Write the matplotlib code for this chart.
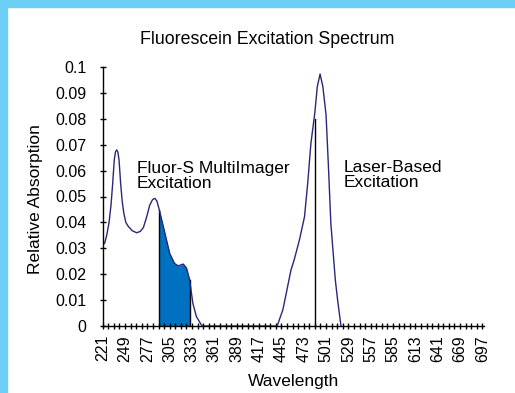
import matplotlib as mpl
import matplotlib.pyplot as plt
import numpy as np
from matplotlib.patches import Rectangle
from matplotlib.ticker import MultipleLocator

mpl.use('Agg')
plt.rcParams['font.family'] = ['Liberation Sans', 'DejaVu Sans']

# spectrum (nm, relative absorption)
wavelength = [221, 223.5, 226, 229, 231.5, 233.5, 235.5, 237, 238.5, 240, 241.5, 243.5, 245.5,
              247.5, 250, 253, 258, 263.5, 268, 272, 276, 280, 283.5, 286.4, 289, 292,
              299, 305, 311, 315.5, 319, 322, 326, 330, 334, 338.5, 344.7, 347,
              400, 439.7, 446.8, 452, 457, 461, 467.6, 474, 478, 482, 487, 490,
              493.5, 497, 501, 504, 507, 512.6, 515.5, 519.7]
absorption = [0.0313, 0.032, 0.035, 0.040, 0.047, 0.055, 0.0641, 0.0672, 0.068, 0.0672,
              0.0641, 0.055, 0.048, 0.0435, 0.040, 0.0385, 0.0368, 0.036,
              0.0365, 0.038, 0.042, 0.0467, 0.0488, 0.0493, 0.0482, 0.0448,
              0.0358, 0.028, 0.0242, 0.0232, 0.0236, 0.0239, 0.0224, 0.0178, 0.0088,
              0.0036, 0.0004, 0.0,
              0.0, 0.0, 0.0062, 0.014, 0.0216, 0.0255, 0.0332, 0.0422, 0.0551, 0.0705,
              0.0825, 0.0924, 0.0973, 0.0924, 0.0815, 0.0615, 0.0397, 0.0178, 0.010, 0.0]

fluor_s_band = (292, 330)
laser_line = 487

tick_start, tick_stop, tick_step = 221, 697, 28

wl = np.array(wavelength)
ab = np.array(absorption)

fig = plt.figure(figsize=(5.15, 3.93), dpi=100)
ax = fig.add_axes([102.7 / 515, 1 - 326 / 393, (484 - 102.7) / 515, (326 - 67) / 393])

line_color = '#28287a'
fill_color = '#0070c0'

in_band = (wl >= fluor_s_band[0]) & (wl <= fluor_s_band[1])
ax.fill_between(wl[in_band], ab[in_band], 0, color=fill_color, lw=0)
for edge in fluor_s_band:
    ax.plot([edge, edge], [0, np.interp(edge, wl, ab)], color='black', lw=1)
ax.plot([laser_line, laser_line], [0, np.interp(laser_line, wl, ab) - 0.0025],
        color='black', lw=1)
ax.plot(wl, ab, color=line_color, lw=1)

ax.set_xlim(tick_start, tick_stop + 2)
ax.set_ylim(0, 0.1)
ax.set_xticks(np.arange(tick_start, tick_stop + 1, tick_step))
ax.xaxis.set_minor_locator(MultipleLocator(7, offset=tick_start % 7))
ax.set_yticks(np.arange(0, 0.101, 0.01))
ax.set_yticklabels(['0'] + [f'{v:.2f}' for v in np.arange(0.01, 0.095, 0.01)] + ['0.1'])
ax.tick_params(axis='x', which='both', direction='inout', length=5, width=1,
               labelrotation=90, labelsize=11.5, pad=4)
ax.tick_params(axis='y', direction='inout', length=5, width=1, labelsize=11.5, pad=9)
for s in ('top', 'right'):
    ax.spines[s].set_visible(False)
for s in ('left', 'bottom'):
    ax.spines[s].set_linewidth(1)

ax.set_xlabel('Wavelength', fontsize=12.5, labelpad=9)
ax.set_ylabel('Relative Absorption', fontsize=12.5)
ax.yaxis.set_label_coords(-0.157, 0.49)

ax.text(264, 0.0636, 'Fluor-S MultiImager\nExcitation', fontsize=12.5, va='top',
        ha='left', linespacing=1.0)
ax.text(523, 0.0642, 'Laser-Based\nExcitation', fontsize=12.5, va='top',
        ha='left', linespacing=1.0)

fig.text(267.5 / 515, 1 - 44.3 / 393, 'Fluorescein Excitation Spectrum',
         fontsize=12.8, ha='center', va='baseline')

border = '#6dcff6'
fig.patches.append(Rectangle((0, 1 - 7 / 393), 1, 7 / 393, transform=fig.transFigure,
                             color=border, zorder=-1))
fig.patches.append(Rectangle((0, 0), 7 / 515, 1, transform=fig.transFigure,
                             color=border, zorder=-1))

fig.savefig('out.png', dpi=100)
